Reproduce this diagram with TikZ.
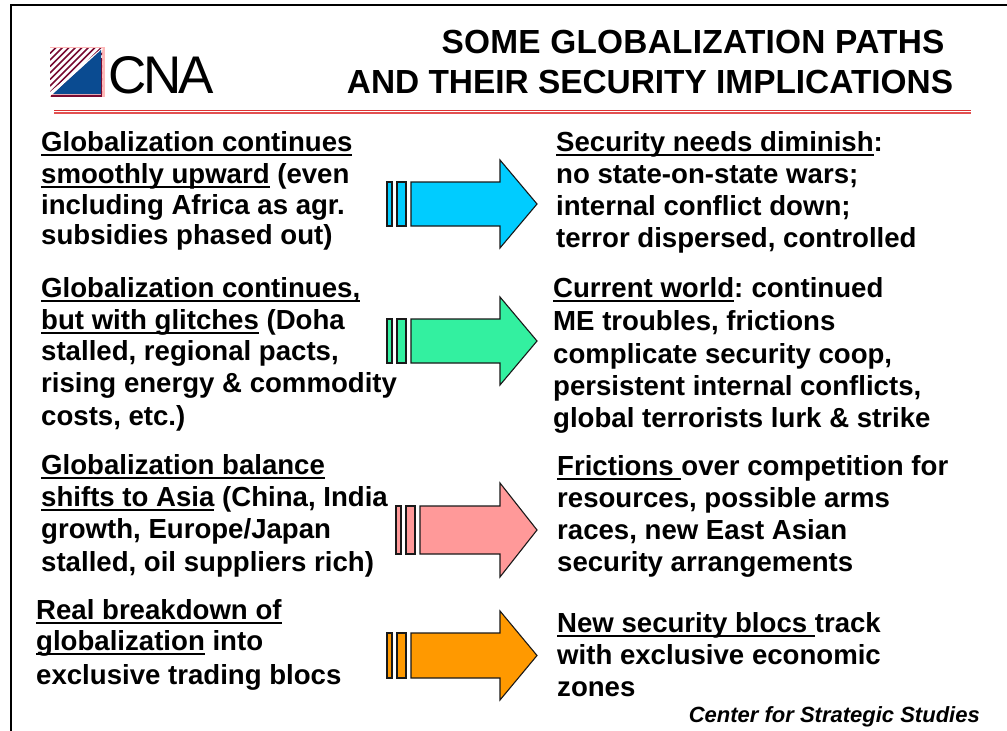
\documentclass[tikz,border=0pt]{standalone}
\usepackage{fontspec}
\setmainfont{Liberation Sans}
\definecolor{ablue}{RGB}{0,204,255}
\definecolor{agreen}{RGB}{51,240,160}
\definecolor{apink}{RGB}{255,153,153}
\definecolor{aorange}{RGB}{255,153,0}
\definecolor{logoblue}{RGB}{10,75,145}
\definecolor{logored}{RGB}{120,10,50}
\definecolor{rulered}{RGB}{220,50,50}
\newcommand{\myul}[1]{\setbox0\hbox{#1}\rlap{\vrule width\wd0 height -3pt depth 5pt}\box0\relax}
\tikzset{
 txt/.style={anchor=base west,inner sep=0pt,font=\bfseries\fontsize{27.6pt}{30pt}\selectfont},
 ttl/.style={anchor=base,inner sep=0pt,font=\bfseries\fontsize{33.4pt}{36pt}\selectfont},
 arrowshape/.style={draw=black!90,line width=1.1pt,line join=miter},
}
\begin{document}
\begin{tikzpicture}[x=1pt,y=-1pt]
\useasboundingbox (0,0) rectangle (1007,731);
\fill[white] (0,0) rectangle (1007,731);
\draw[line width=2pt] (11,731) -- (11,5) -- (1007,5);
% logo
\fill[apink!70] (50,47) rectangle (105,97);
\begin{scope}
\clip (50,48) rectangle (102,93);
\fill[white] (50,47) rectangle (103,95);
\foreach \i in {0,...,16}{\draw[logored,line width=1.7pt] (50+\i*6.5,47) -- (50,47+\i*6.5);}
\end{scope}
\fill[white] (102,48) -- (50,92) -- (50,96) -- (103,49) -- cycle;
\fill[logoblue] (101,50) -- (101,94) -- (53,94) -- cycle;
\fill[logored] (51,94.5) rectangle (102,96.5);
\fill[logored] (101,58) rectangle (102,96);
\node[anchor=base west,inner sep=0pt,font=\fontsize{53pt}{56pt}\selectfont] (cna) at (108,93) {\addfontfeature{LetterSpace=-6}CNA};
% title
\node[ttl] (t1) at (693,53) {\addfontfeature{LetterSpace=0.8}SOME GLOBALIZATION PATHS};
\node[ttl] (t2) at (650,93) {AND THEIR SECURITY IMPLICATIONS};
\fill[rulered] (54,109.5) rectangle (971,111);
\fill[rulered!85] (54,112) rectangle (971,114);
% left column
\node[txt] (a1) at (41,151) {\myul{Globalization continues}};
\node[txt] (a2) at (41,183) {\myul{smoothly upward} (even};
\node[txt] (a3) at (41,214) {including Africa as agr.};
\node[txt] (a4) at (41,244) {subsidies phased out)};
\node[txt] (b1) at (41,297) {\myul{Globalization continues,}};
\node[txt] (b2) at (41,329) {\myul{but with glitches} (Doha};
\node[txt] (b3) at (41,360) {stalled, regional pacts,};
\node[txt] (b4) at (41,392) {rising energy \& commodity};
\node[txt] (b5) at (41,425) {costs, etc.)};
\node[txt] (c1) at (41,474) {\myul{Globalization balance}};
\node[txt] (c2) at (41,506) {\myul{shifts to Asia} (China, India};
\node[txt] (c3) at (41,538) {growth, Europe/Japan};
\node[txt] (c4) at (41,571) {stalled, oil suppliers rich)};
\node[txt] (d1) at (36,619) {\myul{Real breakdown of}};
\node[txt] (d2) at (36,650) {\myul{globalization} into};
\node[txt] (d3) at (36,684) {exclusive trading blocs};
% right column
\node[txt] (e1) at (556,151) {\myul{Security needs diminish}:};
\node[txt] (e2) at (556,183) {no state-on-state wars;};
\node[txt] (e3) at (556,215) {internal conflict down;};
\node[txt] (e4) at (556,247) {terror dispersed, controlled};
\node[txt] (f1) at (553,297) {\myul{Current world}:\kern-2pt{} continued};
\node[txt] (f2) at (553,330) {ME troubles, frictions};
\node[txt] (f3) at (553,363) {complicate security coop,};
\node[txt] (f4) at (553,395) {persistent internal conflicts,};
\node[txt] (f5) at (553,427) {global terrorists lurk \& strike};
\node[txt] (g1) at (557,475) {\myul{Frictions }over competition for};
\node[txt] (g2) at (557,507) {resources, possible arms};
\node[txt] (g3) at (557,539) {races, new East Asian};
\node[txt] (g4) at (557,571) {security arrangements};
\node[txt] (h1) at (557,632) {\myul{New security blocs }track};
\node[txt] (h2) at (557,664) {with exclusive economic};
\node[txt] (h3) at (557,696) {zones};
\node[anchor=base east,inner sep=0pt,font=\bfseries\itshape\fontsize{22pt}{24pt}\selectfont] (src) at (980,722) {Center for Strategic Studies};
% arrows
\foreach \col/\x/\cy/\hb/\hh in {ablue/387/204/22/44,agreen/387/341/22/44,apink/396/530/24/47,aorange/387/655.5/22.5/44.5}{
 \draw[arrowshape,fill=\col] (\x,\cy-\hb) rectangle (\x+5,\cy+\hb);
 \draw[arrowshape,fill=\col] (\x+10,\cy-\hb) rectangle (\x+19,\cy+\hb);
 \draw[arrowshape,fill=\col] (\x+24,\cy-\hb) -- (500,\cy-\hb) -- (500,\cy-\hh) -- (537,\cy) -- (500,\cy+\hh) -- (500,\cy+\hb) -- (\x+24,\cy+\hb) -- cycle;
}
\end{tikzpicture}
\end{document}
